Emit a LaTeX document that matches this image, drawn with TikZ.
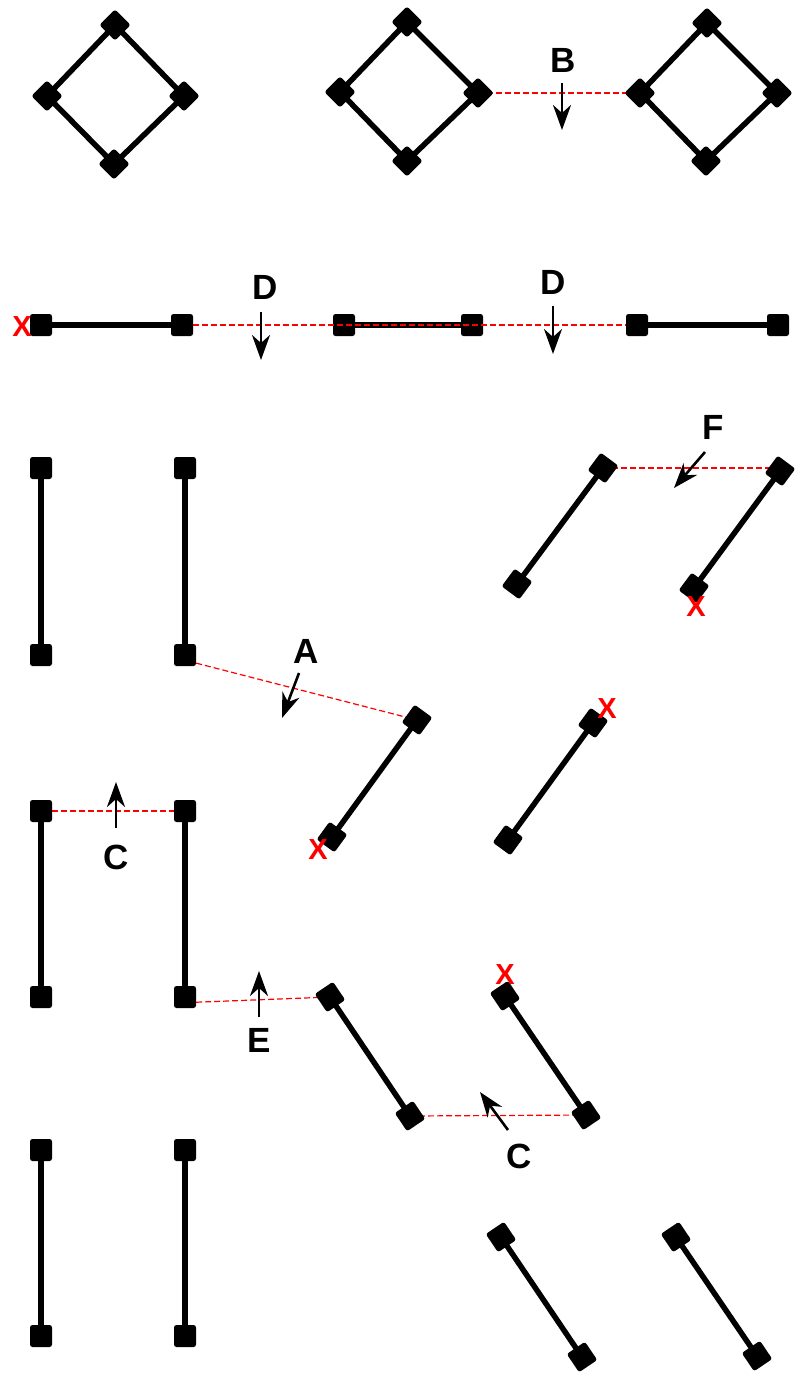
\documentclass[tikz,border=0pt]{standalone}
\usepackage{fontspec}
\setmainfont{Liberation Sans}
\usetikzlibrary{arrows.meta}
\begin{document}
\begin{tikzpicture}[x=1pt,y=-1pt,
  sq/.style={rectangle,fill=black,minimum size=22pt,inner sep=0pt,rounded corners=2.5pt},
  bar/.style={line width=5.5pt},
  redline/.style={red,line width=1.2pt,dash pattern=on 6pt off 3pt},
  lbl/.style={inner sep=0pt,font=\fontsize{35}{40}\selectfont\bfseries},
  cross/.style={inner sep=0pt,text=red,font=\fontsize{29}{32}\selectfont\bfseries},
  arr/.style={line width=2.6pt,-{Stealth[length=25pt,width=18pt,inset=8pt]}}]
\useasboundingbox (0,0) rectangle (795,1382);

% ---------- coordinates of joints ----------
\coordinate (d1t) at (115,25);  \coordinate (d1l) at (47,96);  \coordinate (d1r) at (184,96);  \coordinate (d1b) at (114,164);
\coordinate (d2t) at (407,22);  \coordinate (d2l) at (340,92); \coordinate (d2r) at (478,93);  \coordinate (d2b) at (407,161);
\coordinate (d3t) at (707,23);  \coordinate (d3l) at (640,93); \coordinate (d3r) at (777,93);  \coordinate (d3b) at (706,161);

% ---------- red dashed lines (under) ----------
\draw[redline] (d2r) -- (d3l);

% ---------- diamonds ----------
\draw[bar] (d1t) -- (d1r) -- (d1b) -- (d1l) -- cycle;
\draw[bar] (d2t) -- (d2r) -- (d2b) -- (d2l) -- cycle;
\draw[bar] (d3t) -- (d3r) -- (d3b) -- (d3l) -- cycle;
\foreach \n in {d1t,d1l,d1r,d1b,d2t,d2l,d2r,d2b,d3t,d3l,d3r,d3b}
  \node[sq,rotate=45] at (\n) {};

% ---------- row 2: horizontal bars ----------
\node[sq] (h1a) at (41,325) {};  \node[sq] (h1b) at (182,325) {};
\node[sq] (h2a) at (344,325) {}; \node[sq] (h2b) at (472,325) {};
\node[sq] (h3a) at (637,325) {}; \node[sq] (h3b) at (778,325) {};
\draw[bar] (h1a) -- (h1b);
\draw[bar] (h2a) -- (h2b);
\draw[bar] (h3a) -- (h3b);
\draw[redline] (h1b.east) -- (h3a.west);

% ---------- vertical bars ----------
\node[sq] (v1t) at (41,468) {};  \node[sq] (v1b) at (41,655) {};
\node[sq] (v2t) at (185,468) {}; \node[sq] (v2b) at (185,655) {};
\node[sq] (v3t) at (41,811) {};  \node[sq] (v3b) at (41,997) {};
\node[sq] (v4t) at (185,811) {}; \node[sq] (v4b) at (185,997) {};
\node[sq] (v5t) at (41,1150) {}; \node[sq] (v5b) at (41,1336) {};
\node[sq] (v6t) at (185,1150) {};\node[sq] (v6b) at (185,1336) {};
\foreach \a/\b in {v1t/v1b,v2t/v2b,v3t/v3b,v4t/v4b,v5t/v5b,v6t/v6b}
  \draw[bar] (\a) -- (\b);

% ---------- tilted bars: joints ----------
\coordinate (f1t) at (603,468); \coordinate (f1b) at (517,584);
\coordinate (f2t) at (780,471); \coordinate (f2b) at (694,588);
\coordinate (a1t) at (417,720); \coordinate (a1b) at (332,837);
\coordinate (a2t) at (593,723); \coordinate (a2b) at (508,840);
\coordinate (e1t) at (330,997); \coordinate (e1b) at (410,1116);
\coordinate (e2t) at (505,996); \coordinate (e2b) at (586,1115);
\coordinate (g1t) at (501,1237); \coordinate (g1b) at (582,1357);
\coordinate (g2t) at (676,1237); \coordinate (g2b) at (757,1356);

% red dashed lines under the tilted bars
\draw[redline] (f1t) -- (f1t -| f2t);
\draw[redline] (v2b.-36) -- (a1t);
\draw[redline] (v3t.east) -- (v4t);
\draw[redline] (v4b.-25) -- (e1t);
\draw[redline] (e1b) -- (e2b);

\foreach \a/\b/\r in {f1t/f1b/53.5,f2t/f2b/53.5,a1t/a1b/54,a2t/a2b/54,e1t/e1b/-56,e2t/e2b/-56,g1t/g1b/-56,g2t/g2b/-56}{
  \draw[bar] (\a) -- (\b);
  \node[sq,rotate=\r] at (\a) {};
  \node[sq,rotate=\r] at (\b) {};
}

% ---------- labels and arrows ----------
\node[lbl] (lB) at (563,60) {B};
\coordinate (bS) at (562,83);  \coordinate (bE) at (562,130);
\draw[arr] (bS) -- (bE);

\node[lbl] (lD1) at (265,287) {D};
\coordinate (d1S) at (261,312); \coordinate (d1E) at (261,360);
\draw[arr] (d1S) -- (d1E);

\node[lbl] (lD2) at (553,282) {D};
\coordinate (d2S) at (553,306); \coordinate (d2E) at (553,354);
\draw[arr] (d2S) -- (d2E);

\node[lbl] (lF) at (713,427) {F};
\coordinate (fS) at (705,452); \coordinate (fE) at (674,488);
\draw[arr] (fS) -- (fE);

\node[lbl] (lA) at (306,651) {A};
\coordinate (aS) at (299,673); \coordinate (aE) at (282,718);
\draw[arr] (aS) -- (aE);

\node[lbl] (lC1) at (116,857) {C};
\coordinate (c1S) at (116,828); \coordinate (c1E) at (116,782);
\draw[arr] (c1S) -- (c1E);

\node[lbl] (lE) at (259,1040) {E};
\coordinate (eS) at (259,1017); \coordinate (eE) at (259,971);
\draw[arr] (eS) -- (eE);

\node[lbl] (lC2) at (519,1156) {C};
\coordinate (c2S) at (508,1130); \coordinate (c2E) at (480,1092);
\draw[arr] (c2S) -- (c2E);

% ---------- red crosses ----------
\node[cross] (x1) at (22,327) {X};
\node[cross] (x2) at (696,607) {X};
\node[cross] (x3) at (318,850) {X};
\node[cross] (x4) at (607,709) {X};
\node[cross] (x5) at (505,975) {X};
\end{tikzpicture}
\end{document}
